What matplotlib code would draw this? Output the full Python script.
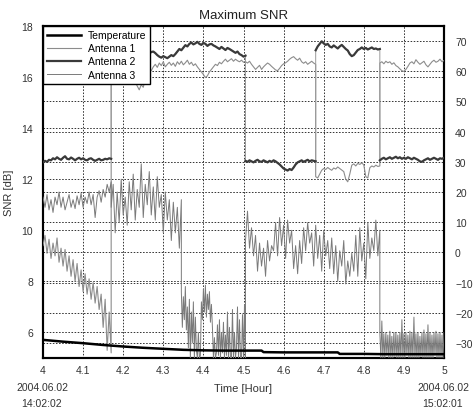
import numpy as np
import matplotlib
matplotlib.use("Agg")
import matplotlib.pyplot as plt

plt.rcParams["font.family"] = ["Liberation Sans", "DejaVu Sans"]

# time boundaries of the recording segments [hour]
t_start, t_a, t_b, t_c, t_d, t_e, t_end = 4.0, 4.17, 4.345, 4.505, 4.68, 4.84, 5.0

# temperature (black)
temp_t = [4.0, 4.05, 4.1, 4.15, 4.2, 4.25, 4.3, 4.35, 4.4, 4.45, 4.5, 4.545, 4.55, 4.6, 4.65, 4.7, 4.735, 4.74, 4.8, 4.85, 4.9, 4.95, 5.0]
temp_v = [5.71, 5.64, 5.58, 5.51, 5.45, 5.40, 5.36, 5.32, 5.30, 5.29, 5.29, 5.29, 5.23, 5.22, 5.22, 5.22, 5.22, 5.16, 5.16, 5.15, 5.15, 5.15, 5.15]

# Antenna 1
a1_s1 = [9.4, 9.8, 9.1, 9.65, 8.9, 9.5, 9.0, 9.7, 8.75, 9.3, 8.6, 9.25, 8.4, 9.0, 8.2, 8.85, 8.0, 8.7,
         7.8, 8.45, 7.6, 8.3, 7.5, 8.1, 7.3, 7.95, 7.15, 7.8, 6.9, 7.5, 6.2, 7.3, 5.3, 6.8, 5.2]
a1_s2 = [16.4, 16.5, 16.35, 16.45, 16.3, 16.42, 16.36, 16.48, 16.3, 16.4, 16.2, 16.05, 15.8, 15.65,
         15.5, 15.7, 15.6, 15.9,
         16.2, 16.35, 16.25, 16.4, 16.5, 16.38, 16.55, 16.45, 16.6, 16.4, 16.5, 16.58, 16.46,
         16.55, 16.42, 16.6, 16.5, 16.62, 16.48, 16.56, 16.66, 16.5, 16.58, 16.45, 16.52, 16.4, 16.3, 16.2,
         16.1, 15.98, 16.05, 16.2, 16.3,
         16.4, 16.5, 16.45, 16.58, 16.52, 16.62, 16.7, 16.6, 16.66, 16.72, 16.62, 16.7, 16.64, 16.6, 16.66, 16.58, 16.62]
a1_s3 = [16.6, 16.55, 16.62, 16.5, 16.4, 16.3, 16.38, 16.46, 16.3, 16.4, 16.48, 16.55, 16.5, 16.42,
         16.35, 16.28, 16.25, 16.34, 16.45, 16.52, 16.56, 16.62, 16.7, 16.76, 16.8, 16.72, 16.66,
         16.74, 16.6, 16.54, 16.6, 16.5, 16.56, 16.62, 16.55, 16.5]
a1_s4 = [12.1, 12.05, 12.2, 12.35, 12.42, 12.38, 12.46, 12.4, 12.35, 12.44, 12.4, 12.48, 12.42, 12.36,
         12.3, 12.0, 11.9, 12.2, 12.55, 12.6, 12.52, 12.62, 12.58, 12.64, 12.56, 12.1, 12.05, 12.45,
         12.52, 12.48, 12.55, 12.5, 12.52]
a1_s5 = [16.55, 16.6, 16.52, 16.62, 16.56, 16.6, 16.5, 16.56, 16.45, 16.4, 16.32, 16.25, 16.22, 16.3,
         16.42, 16.55, 16.6, 16.52, 16.68, 16.58, 16.5, 16.56, 16.62, 16.48, 16.4, 16.5, 16.6, 16.66,
         16.58, 16.62, 16.7, 16.6, 16.65]

# Antenna 2
a2_s1 = [12.66, 12.72, 12.68, 12.76, 12.74, 12.82, 12.78, 12.86, 12.8, 12.76, 12.84, 12.9, 12.8, 12.78,
         12.85, 12.8, 12.74, 12.8, 12.84, 12.78, 12.82, 12.76, 12.74, 12.8, 12.82, 12.76, 12.72, 12.76,
         12.8, 12.74, 12.76, 12.8, 12.78, 12.82, 12.8]
a2_s2 = [16.9, 16.95, 17.0, 16.92, 16.98, 16.9, 16.85, 16.92, 16.88, 16.95, 17.0, 16.94, 16.98, 17.02,
         16.96, 16.9, 16.94, 17.0, 16.96, 16.92, 16.98,
         17.0, 16.94, 16.86, 16.8, 16.76, 16.82, 16.78, 16.74, 16.8, 16.86, 16.82, 16.9,
         17.0, 17.1, 17.05,
         17.15, 17.25, 17.2, 17.3, 17.35, 17.28, 17.32, 17.38, 17.3, 17.26, 17.34, 17.3, 17.22, 17.28, 17.3, 17.24, 17.2,
         17.15, 17.1, 17.18, 17.12, 17.06, 17.14, 17.1, 17.05,
         17.0, 16.95, 17.0, 16.9, 16.86, 16.8, 16.84]
a2_s3 = [12.72, 12.68, 12.74, 12.7, 12.66, 12.72, 12.76, 12.7, 12.68, 12.74, 12.7, 12.66, 12.72, 12.68,
         12.74, 12.7, 12.64, 12.58, 12.5, 12.42, 12.38, 12.34, 12.4, 12.36, 12.46, 12.58, 12.66, 12.7,
         12.74, 12.68, 12.72, 12.76, 12.7, 12.74, 12.72, 12.7]
a2_s4 = [17.05, 17.2, 17.3, 17.4, 17.32, 17.26, 17.3, 17.2, 17.16, 17.24, 17.18, 17.12, 17.2, 17.26,
         17.18, 17.1, 17.04, 16.9, 16.82, 16.86, 16.96, 17.06, 17.1, 17.16, 17.1, 17.14, 17.08, 17.12,
         17.16, 17.1, 17.12, 17.08, 17.1]
a2_s5 = [12.74, 12.8, 12.84, 12.78, 12.82, 12.86, 12.8, 12.84, 12.88, 12.82, 12.86, 12.8, 12.84, 12.8,
         12.86, 12.82, 12.78, 12.84, 12.8, 12.76, 12.7, 12.68, 12.74, 12.78, 12.82, 12.76, 12.8, 12.84,
         12.8, 12.76, 12.82, 12.8, 12.84]

# Antenna 3
a3_s1 = [11.3, 10.9, 11.4, 10.8, 11.2, 10.7, 11.3, 11.0, 11.5, 10.9, 11.3, 10.8, 11.1, 11.4, 10.9, 11.2,
         10.85, 11.35, 11.0, 11.45, 10.9, 11.3, 11.05, 11.5, 11.0, 11.4, 10.5, 11.3, 11.55, 11.1, 11.6,
         11.3, 11.8, 11.5, 11.9]
a3_s2 = [10.9, 11.8, 9.9, 11.5, 10.3, 12.0, 10.6, 11.3, 10.2, 11.9, 10.8, 12.2, 10.4, 11.6, 10.9, 12.6,
         10.5, 11.8, 11.0, 12.3, 10.6, 11.7, 10.4, 12.1, 10.9, 11.4, 9.9, 11.5, 10.4, 11.2, 9.6, 11.1,
         9.9, 10.9, 9.3, 11.2]
a3_s3 = [7.6, 6.2, 7.4, 6.5, 7.8, 6.1,
         7.0, 5.4, 7.3, 5.0, 6.8, 5.6, 7.2, 5.0, 6.6, 5.3,
         5.0, 6.0, 5.0, 5.1,
         7.2, 6.5, 7.7, 6.8, 7.85, 6.6, 7.5, 6.9, 7.6, 6.4, 7.1, 6.2,
         5.0, 5.8, 5.0, 5.2,
         6.3, 5.1, 6.5, 5.0, 6.0, 5.2, 6.4, 5.0, 5.9, 5.1,
         6.8, 5.0, 6.2, 5.0, 5.0, 6.9, 5.0, 6.0, 5.0, 5.4, 7.0, 5.0, 6.5, 5.0, 5.0, 6.7, 5.0, 7.1, 5.0]
a3_s4 = [9.6, 10.75, 9.3, 10.1, 9.0, 9.8,
         8.4, 9.5, 8.6, 9.3, 8.2, 9.6, 8.8, 9.4,
         9.2, 10.3, 9.0, 10.5, 9.4, 10.2, 8.9, 10.4, 9.5, 10.0,
         8.5, 9.4, 8.3, 9.6, 8.7,
         10.1, 9.2, 10.3, 9.5, 9.9,
         8.6, 10.2, 8.9, 9.8, 8.4, 10.0, 9.0, 9.6, 8.5, 9.7,
         8.3, 9.4, 8.0, 9.2, 8.6, 9.6, 7.9, 8.8, 8.2, 9.1,
         8.4, 9.8, 8.2, 10.1, 8.8, 9.5, 8.1, 10.3, 8.9, 9.7,
         9.2, 10.4, 9.0, 10.0]
a3_s5 = [6.0, 5.0, 6.45, 5.0, 5.95, 5.0, 6.0, 5.1, 5.9, 5.0, 6.05, 5.0, 5.85, 5.0, 6.0, 5.05, 6.0, 5.0,
         5.9, 5.0, 6.0, 5.0, 6.5, 5.0, 5.95, 5.0, 6.0, 5.1, 5.9, 5.0, 6.05, 5.0, 6.0, 5.0, 6.6, 5.0,
         5.95, 5.0, 6.0, 5.0, 5.85, 5.05, 6.0, 5.0, 6.1, 5.0, 5.95, 5.0, 6.3, 5.0, 6.0, 5.0, 5.9, 5.0,
         6.0, 5.1, 6.05, 5.0, 5.95, 5.0, 6.0, 5.0, 5.9, 5.0, 6.0]

right_ticks = [-30, -20, -10, 0, 10, 20, 30, 40, 50, 60, 70]
left_ticks = [6, 8, 10, 12, 14, 16, 18]
x_ticks = [4, 4.1, 4.2, 4.3, 4.4, 4.5, 4.6, 4.7, 4.8, 4.9, 5]


def join(parts, gaps=False):
    # parts: list of (t0, t1, values) -> evenly sampled times
    tt, vv = [], []
    for t0, t1, vals in parts:
        tt.append(np.linspace(t0, t1, len(vals)))
        vv.append(np.array(vals, dtype=float))
        if gaps:
            tt.append([np.nan])
            vv.append([np.nan])
    return np.concatenate(tt), np.concatenate(vv)


a1_parts = [(t_start, t_a, a1_s1), (t_a, t_c, a1_s2), (t_c, t_d, a1_s3), (t_d, t_e, a1_s4), (t_e, t_end, a1_s5)]
a2_parts = [(t_start, t_a, a2_s1), (t_a, t_c, a2_s2), (t_c, t_d, a2_s3), (t_d, t_e, a2_s4), (t_e, t_end, a2_s5)]
a3_parts = [(t_start, t_a, a3_s1), (t_a, t_b, a3_s2), (t_b, t_c, a3_s3), (t_c, t_e, a3_s4), (t_e, t_end, a3_s5)]

ant1_t, ant1_v = join(a1_parts)
ant2_t, ant2_v = join(a2_parts)
ant2_tg, ant2_vg = join(a2_parts, gaps=True)
ant3_t, ant3_v = join(a3_parts)

fig = plt.figure(figsize=(4.74, 4.14), dpi=100)
ax = fig.add_axes([43 / 474, 1 - 359 / 414, 401 / 474, 332 / 414])
ax2 = ax.twinx()

grid_kw = dict(color="#333333", linestyle=(0, (1.6, 1.6)), linewidth=0.7)
for v in x_ticks[1:-1]:
    ax.axvline(v, zorder=0, **grid_kw)
for v in left_ticks:
    ax.axhline(v, zorder=0, **grid_kw)
for v in right_ticks:
    ax2.axhline(v, zorder=0, **grid_kw)

ax.plot(temp_t, temp_v, color="black", lw=1.8, label="Temperature", zorder=5)
ax.plot(ant1_t, ant1_v, color="#8c8c8c", lw=0.8, label="Antenna 1", zorder=3)
# thin trace carries the jumps, thick trace the plateaus
ax.plot(ant2_t, ant2_v, color="#9a9a9a", lw=0.7, zorder=3)
ax.plot(ant2_tg, ant2_vg, color="#3a3a3a", lw=1.6, label="Antenna 2", zorder=4)
ax.plot(ant3_t, ant3_v, color="#7a7a7a", lw=0.7, label="Antenna 3", zorder=3)

ax.set_xlim(4, 5)
ax.set_ylim(5, 18)
ax2.set_ylim(-35, 75)
ax.set_xticks(x_ticks)
ax.set_xticklabels(["4", "4.1", "4.2", "4.3", "4.4", "4.5", "4.6", "4.7", "4.8", "4.9", "5"])
ax.set_yticks(left_ticks)
ax2.set_yticks(right_ticks)
ax.tick_params(length=0, labelsize=7.5, labelcolor="#333333", pad=5)
ax.tick_params(axis="y", pad=7)
ax2.tick_params(length=0, labelsize=7.5, labelcolor="#333333", pad=8)
for a in (ax, ax2):
    for s in a.spines.values():
        s.set_linewidth(1.5)
        s.set_color("black")

ax.set_title("Maximum SNR", fontsize=9.5, color="#222222", pad=6)
ax.set_ylabel("SNR [dB]", fontsize=8, color="#333333")
ax.yaxis.set_label_coords(-0.072, 0.5)
ax.set_xlabel("Time [Hour]", fontsize=8, color="#333333", labelpad=6)

fig.text(42 / 474, 1 - 388 / 414, "2004.06.02", ha="center", va="center", fontsize=7.5, color="#333333")
fig.text(42 / 474, 1 - 404 / 414, "14:02:02", ha="center", va="center", fontsize=7.5, color="#333333")
fig.text(443 / 474, 1 - 388 / 414, "2004.06.02", ha="center", va="center", fontsize=7.5, color="#333333")
fig.text(443 / 474, 1 - 404 / 414, "15:02:01", ha="center", va="center", fontsize=7.5, color="#333333")

leg = ax.legend(loc="upper left", fontsize=7.5, frameon=True, fancybox=False, framealpha=1,
                edgecolor="black", borderaxespad=0, handlelength=3.2, labelspacing=0.3,
                borderpad=0.4, handletextpad=0.7)
leg.get_frame().set_linewidth(1.0)
leg.set_zorder(10)
ax2.set_zorder(0)
ax.set_zorder(1)
ax.patch.set_visible(False)

fig.savefig("out.png", dpi=100)
